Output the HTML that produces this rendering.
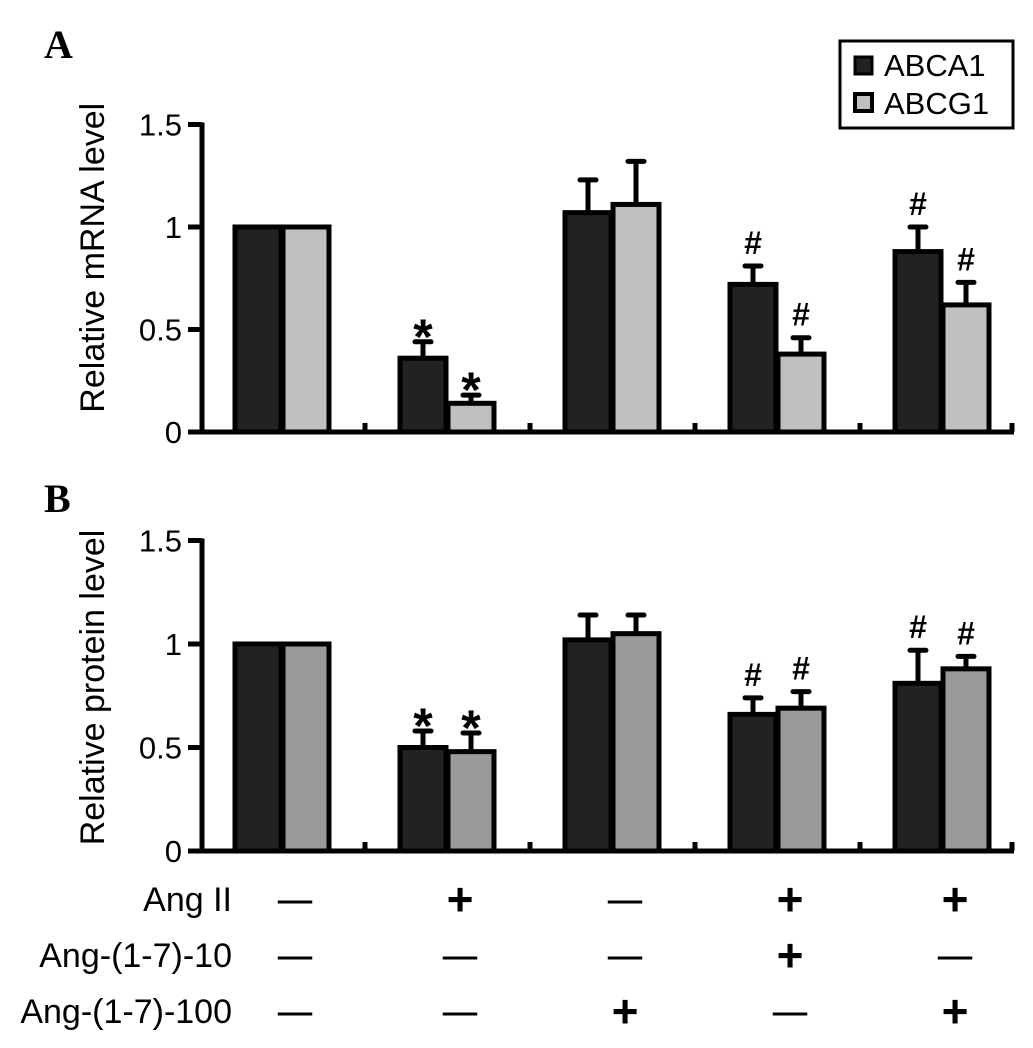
<!DOCTYPE html>
<html><head><meta charset="utf-8"><style>
body{margin:0;background:#fff;}
svg text{font-family:"Liberation Sans",sans-serif;}
</style></head><body>
<svg id="s" width="1033" height="1043" viewBox="0 0 1033 1043">
<text x="44" y="58" font-weight="bold" font-size="40" style="font-family:'Liberation Serif',serif">A</text>
<text x="44" y="512" font-weight="bold" font-size="40" style="font-family:'Liberation Serif',serif">B</text>
<g>
<rect x="840" y="41" width="173" height="87" fill="#fff" stroke="#000" stroke-width="3"/>
<g><rect x="855" y="57" width="17" height="17" fill="#222" stroke="#000" stroke-width="3"/><text x="884" y="76" font-size="31">ABCA1</text></g>
<g><rect x="855" y="94" width="17" height="17" fill="#c0c0c0" stroke="#000" stroke-width="4"/><text x="884" y="114" font-size="31">ABCG1</text></g>
</g>
<g id="pa"></g>
<g id="pb"></g>
<g id="tbl"></g>
</svg>
<script>
const groups=["ctrl","angII","ang100","angII+ang10","angII+ang100"];
const mrnaA=[1,0.36,1.07,0.72,0.88];
const mrnaAErr=[0,0.08,0.16,0.09,0.12];
const mrnaG=[1,0.14,1.11,0.38,0.62];
const mrnaGErr=[0,0.04,0.21,0.08,0.11];
const mrnaMarkA=["","*","","#","#"];
const mrnaMarkG=["","*","","#","#"];
const protA=[1,0.50,1.02,0.66,0.81];
const protAErr=[0,0.08,0.12,0.08,0.16];
const protG=[1,0.48,1.05,0.69,0.88];
const protGErr=[0,0.09,0.09,0.08,0.06];
const protMarkA=["","*","","#","#"];
const protMarkG=["","*","","#","#"];
const yTicks=[0,0.5,1,1.5];
const yTickLabels=["0","0.5","1","1.5"];
const rowLabels=["Ang II","Ang-(1-7)-10","Ang-(1-7)-100"];
const rowAngII=["−","+","−","+","+"];
const rowAng10=["−","−","−","+","−"];
const rowAng100=["−","−","+","−","+"];
const NS="http://www.w3.org/2000/svg";
function mk(p,t,a){const e=document.createElementNS(NS,t);for(const k in a)e.setAttribute(k,a[k]);p.appendChild(e);return e;}
function xC(i){return 283+i*165;}
function panel(g,y0,scale,A,AE,G,GE,MA,MG,lightCol,title,tc){
  const y=v=>y0-v*scale;
  let t=mk(g,"text",{x:0,y:0,"font-size":34,"text-anchor":"middle",transform:`translate(104,${y(tc)}) rotate(-90)`});t.textContent=title;
  
  
  for(let i=0;i<groups.length;i++){
    const c=xC(i);
    [[A,AE,MA,"#222",c-25],[G,GE,MG,lightCol,c+23]].forEach(([vals,errs,marks,col,cx],s)=>{
      const v=vals[i],e=errs[i];
      if(e>0){
        let l=mk(g,"line",{x1:cx,x2:cx,y1:y(v),y2:y(v+e),stroke:"#000","stroke-width":5});
        
        
        let cp=mk(g,"line",{x1:cx-8,x2:cx+8,y1:y(v+e),y2:y(v+e),stroke:"#000","stroke-width":5,"stroke-linecap":"round"});
        
        
      }
      let r=mk(g,"rect",{x:cx-23,y:y(v),width:46,height:v*scale,fill:col,stroke:"#000","stroke-width":5});
      
      
      if(marks[i]){
        const star=marks[i]=="*";
        let m=mk(g,"text",{x:cx,y:y(v+e)-(star?-12:12),"font-size":star?50:32,"text-anchor":"middle","font-weight":"bold"});m.textContent=marks[i];
        
        }
    });
    const tx=Math.min(c+82,1012);
    let mt=mk(g,"line",{x1:tx,x2:tx,y1:y0,y2:y0-9,stroke:"#000","stroke-width":5});
    
    
  }
  let ax=mk(g,"line",{x1:202,x2:202,y1:y(1.5)-2,y2:y0+2,stroke:"#000","stroke-width":5});
  
  
  let xa=mk(g,"line",{x1:188,x2:1014,y1:y0,y2:y0,stroke:"#000","stroke-width":5});
  
  
  yTicks.forEach((v,k)=>{
    let tk=mk(g,"line",{x1:188,x2:202,y1:y(v),y2:y(v),stroke:"#000","stroke-width":5});
    
    
    let tl=mk(g,"text",{x:182,y:y(v)+11,"font-size":31,"text-anchor":"end"});tl.textContent=yTickLabels[k];
    
    
  });
}
panel(document.getElementById('pa'),432,205,mrnaA,mrnaAErr,mrnaG,mrnaGErr,mrnaMarkA,mrnaMarkG,"#c0c0c0","Relative mRNA level",0.85);
panel(document.getElementById('pb'),851,207,protA,protAErr,protG,protGErr,protMarkA,protMarkG,"#9a9a9a","Relative protein level",0.79);
const tbl=document.getElementById('tbl');
[rowAngII,rowAng10,rowAng100].forEach((row,r)=>{
  const by=911+r*56;
  let l=mk(tbl,"text",{x:232,y:by,"font-size":34,"text-anchor":"end"});l.textContent=rowLabels[r];
  
  
  row.forEach((s,i)=>{
    const cx=xC(i)+12;
    const plus=s=="+";
    let m=mk(tbl,"text",{x:cx,y:plus?by+4:by-1,"font-size":plus?46:30,"font-weight":"bold","text-anchor":"middle",transform:plus?"":`translate(${cx},0) scale(1.15,1) translate(${-cx},0)`});m.textContent=plus?"+":"—";
    
    
  });
});
</script>
</body></html>
